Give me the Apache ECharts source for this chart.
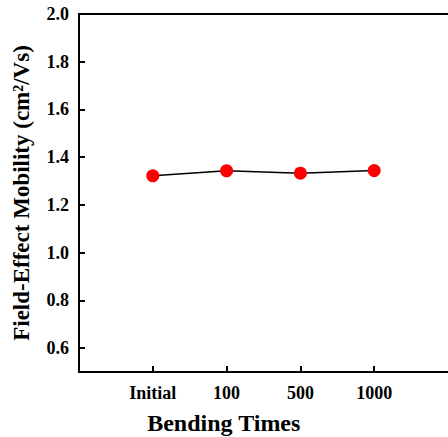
<!DOCTYPE html>
<html>
<head>
<meta charset="utf-8">
<script src="https://cdn.jsdelivr.net/npm/echarts@6.0.0/dist/echarts.min.js"></script>
<style>
html,body{margin:0;padding:0;background:#fff;}
#chart{width:448px;height:437px;}
</style>
</head>
<body>
<div id="chart"></div>
<script>
const categories = ['Initial', '100', '500', '1000'];
const mobility = [1.322, 1.343, 1.333, 1.344];
const yTicks = [0.6, 0.8, 1.0, 1.2, 1.4, 1.6, 1.8, 2.0];
const xPositions = [1, 2, 3, 4];
const yTitle = 'Field-Effect Mobility (cm\u00B2/Vs)';
const xTitle = 'Bending Times';

const FONT = '"Liberation Serif", "Times New Roman", serif';
const chart = echarts.init(document.getElementById('chart'), null, {renderer: 'svg'});
const data = mobility.map((v, i) => [xPositions[i], v]);

chart.setOption({
  animation: false,
  backgroundColor: '#fff',
  grid: {left: 79, right: -5, top: 14, bottom: 65, containLabel: false},
  graphic: [{
    type: 'text', left: 'center', top: 411,
    style: {text: xTitle, fontFamily: FONT, fontWeight: 'bold', fontSize: 24, fill: '#000'}
  }],
  xAxis: [{
    type: 'value', min: 0, max: 5,
    axisLine: {show: true, lineStyle: {color: '#000', width: 2}},
    axisTick: {show: true, inside: true, length: 6, lineStyle: {color: '#000', width: 2}, customValues: xPositions},
    axisLabel: {show: true, margin: 12, fontFamily: FONT, fontWeight: 'bold', fontSize: 18, color: '#000',
      customValues: xPositions, formatter: v => categories[Math.round(v) - 1] || ''},
    splitLine: {show: false}
  }, {
    type: 'value', position: 'top', min: 0, max: 5,
    axisLine: {show: true, onZero: false, lineStyle: {color: '#000', width: 2}},
    axisTick: {show: false}, axisLabel: {show: false}, splitLine: {show: false}
  }],
  yAxis: {
    type: 'value', min: 0.5, max: 2.0,
    name: yTitle, nameLocation: 'middle', nameGap: 46,
    nameTextStyle: {fontFamily: FONT, fontWeight: 'bold', fontSize: 23, color: '#000'},
    axisLine: {show: true, lineStyle: {color: '#000', width: 2}},
    axisTick: {show: true, inside: true, length: 6, lineStyle: {color: '#000', width: 2}, customValues: yTicks},
    axisLabel: {show: true, margin: 10, fontFamily: FONT, fontWeight: 'bold', fontSize: 18, color: '#000',
      customValues: yTicks, formatter: v => v.toFixed(1)},
    splitLine: {show: false}
  },
  series: [{
    type: 'line',
    data: data,
    symbol: 'circle', symbolSize: 13,
    lineStyle: {color: '#000', width: 1.5},
    itemStyle: {color: '#ff0000'},
    z: 5
  }]
});
</script>
</body>
</html>
